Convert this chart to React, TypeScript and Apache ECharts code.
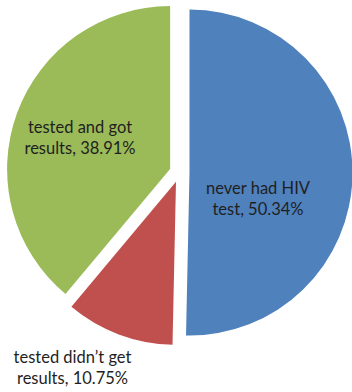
import React, { useEffect, useRef } from "react";
import * as echarts from "echarts";

const categories = ["never had HIV test", "tested didn’t get results", "tested and got results"];
const labelLines = [
  ["never had HIV", "test, 50.34%"],
  ["tested didn’t get", "results, 10.75%"],
  ["tested and got", "results, 38.91%"],
];
const values = [50.34, 10.75, 38.91];
const colors = ["#4F81BD", "#C0504D", "#9BBB59"];

// label anchor points (chart pixels), per slice
const labelAnchors = [
  [258, 198],
  [72.5, 367],
  [80, 137],
];

export default function App() {
  const ref = useRef<HTMLDivElement>(null);
  useEffect(() => {
    if (!ref.current) return;
    const chart = echarts.init(ref.current, null, { renderer: "svg" });
    chart.setOption({
      animation: false,
      backgroundColor: "#ffffff",
      graphic: labelLines.map((lines, i) => ({
        type: "text",
        x: labelAnchors[i][0],
        y: labelAnchors[i][1],
        z: 100,
        style: {
          text: lines.join("\n"),
          fontFamily: "Lato, 'Open Sans', sans-serif",
          fontSize: 16.5,
          lineHeight: 21,
          fill: "#1f1f1f",
          align: "center",
          verticalAlign: "middle",
        },
      })),
      series: [
        {
          type: "pie",
          center: [179.5, 172.5],
          radius: 163,
          startAngle: 90,
          clockwise: true,
          selectedMode: "multiple",
          selectedOffset: 10,
          avoidLabelOverlap: false,
          emphasis: { disabled: true },
          labelLine: { show: false },
          label: { show: false },
          data: categories.map((name, i) => ({
            name,
            value: values[i],
            selected: true,
            itemStyle: { color: colors[i] },
          })),
        },
      ],
    });
    return () => chart.dispose();
  }, []);
  return (
    <div
      ref={ref}
      style={{ position: "fixed", left: 0, top: 0, width: 352, height: 392 }}
    />
  );
}
